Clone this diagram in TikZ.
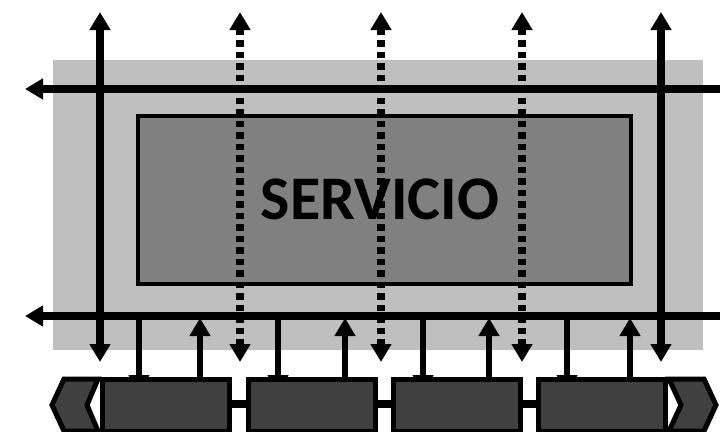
\documentclass[tikz,border=0pt]{standalone}
\usepackage{fontspec}
\setmainfont{Carlito}
\usetikzlibrary{arrows.meta}
\definecolor{lg}{HTML}{BFBFBF}
\definecolor{mg}{HTML}{808080}
\definecolor{dg}{HTML}{404040}
\begin{document}
\begin{tikzpicture}[x=1pt,y=-1pt,
  tri/.tip={Triangle[length=18pt,width=20pt]},
  busline/.style={line width=7.5pt,tri-tri},
  solidv/.style={line width=7.5pt,tri-tri},
  dottedv/.style={line width=7.5pt,tri-tri,dash pattern=on 6.5pt off 5pt},
  uparr/.style={line width=6pt,-tri},
  downarr/.style={line width=6pt,-tri},
  unit/.style={draw=black,line width=5pt,fill=dg,minimum width=127pt,minimum height=52pt,inner sep=0pt},
  chev/.style={draw=black,line width=5pt,fill=dg,line join=miter},
  link/.style={line width=8pt}]
\useasboundingbox (0,0) rectangle (720,431);
% service areas
\node[fill=lg,minimum width=650pt,minimum height=290pt,inner sep=0pt] (outer) at (378,205) {};
\node[draw=black,line width=3.5pt,fill=mg,minimum width=493pt,minimum height=168pt,inner sep=0pt] (core) at (384.5,200) {};
\node[font=\bfseries\fontsize{62}{62}\selectfont] (lbl) at (380,199) {SERVICIO};
% coordinates
\coordinate (h1l) at (25,89);  \coordinate (h1r) at (738,89);
\coordinate (h2l) at (25,316); \coordinate (h2r) at (738,316);
\foreach \n/\x in {1/100,2/240,3/381,4/522,5/661}{
  \coordinate (v\n t) at (\x,12);
  \coordinate (v\n b) at (\x,362);
}
% horizontal buses
\draw[busline] (h1r) -- (h1l);
\draw[busline] (h2r) -- (h2l);
% vertical arrows
\draw[solidv] (v1b) -- (v1t);
\draw[solidv] (v5b) -- (v5t);
\draw[dottedv] (v2t) -- (v2b);
\draw[dottedv] (v3t) -- (v3b);
\draw[dottedv] (v4t) -- (v4b);
% down arrows (tips mostly hidden under units)
\foreach \n/\x in {1/139,2/278,3/423,4/567}{
  \coordinate (ds\n) at (\x,316);
  \coordinate (de\n) at (\x,393);
  \draw[downarr] (ds\n) -- (de\n);
}
% links between units
\coordinate (lk1) at (166,404);
\coordinate (lk2) at (602,404);
\draw[link] (lk1) -- (lk2);
% units
\node[unit] (b1) at (166,405) {};
\node[unit] (b2) at (311.5,405) {};
\node[unit] (b3) at (456.5,405) {};
\node[unit] (b4) at (601.5,405) {};
% chevrons
\draw[chev] (64,379) -- (98,379) -- (87,405) -- (98,431) -- (64,431) -- (52,405) -- cycle;
\draw[chev] (669,379) -- (704,379) -- (716,405) -- (704,431) -- (669,431) -- (681,405) -- cycle;
% up arrows
\foreach \n/\x in {1/200,2/345,3/489,4/630}{
  \coordinate (us\n) at (\x,379);
  \coordinate (ue\n) at (\x,318);
  \draw[uparr] (us\n) -- (ue\n);
}
\end{tikzpicture}
\end{document}
